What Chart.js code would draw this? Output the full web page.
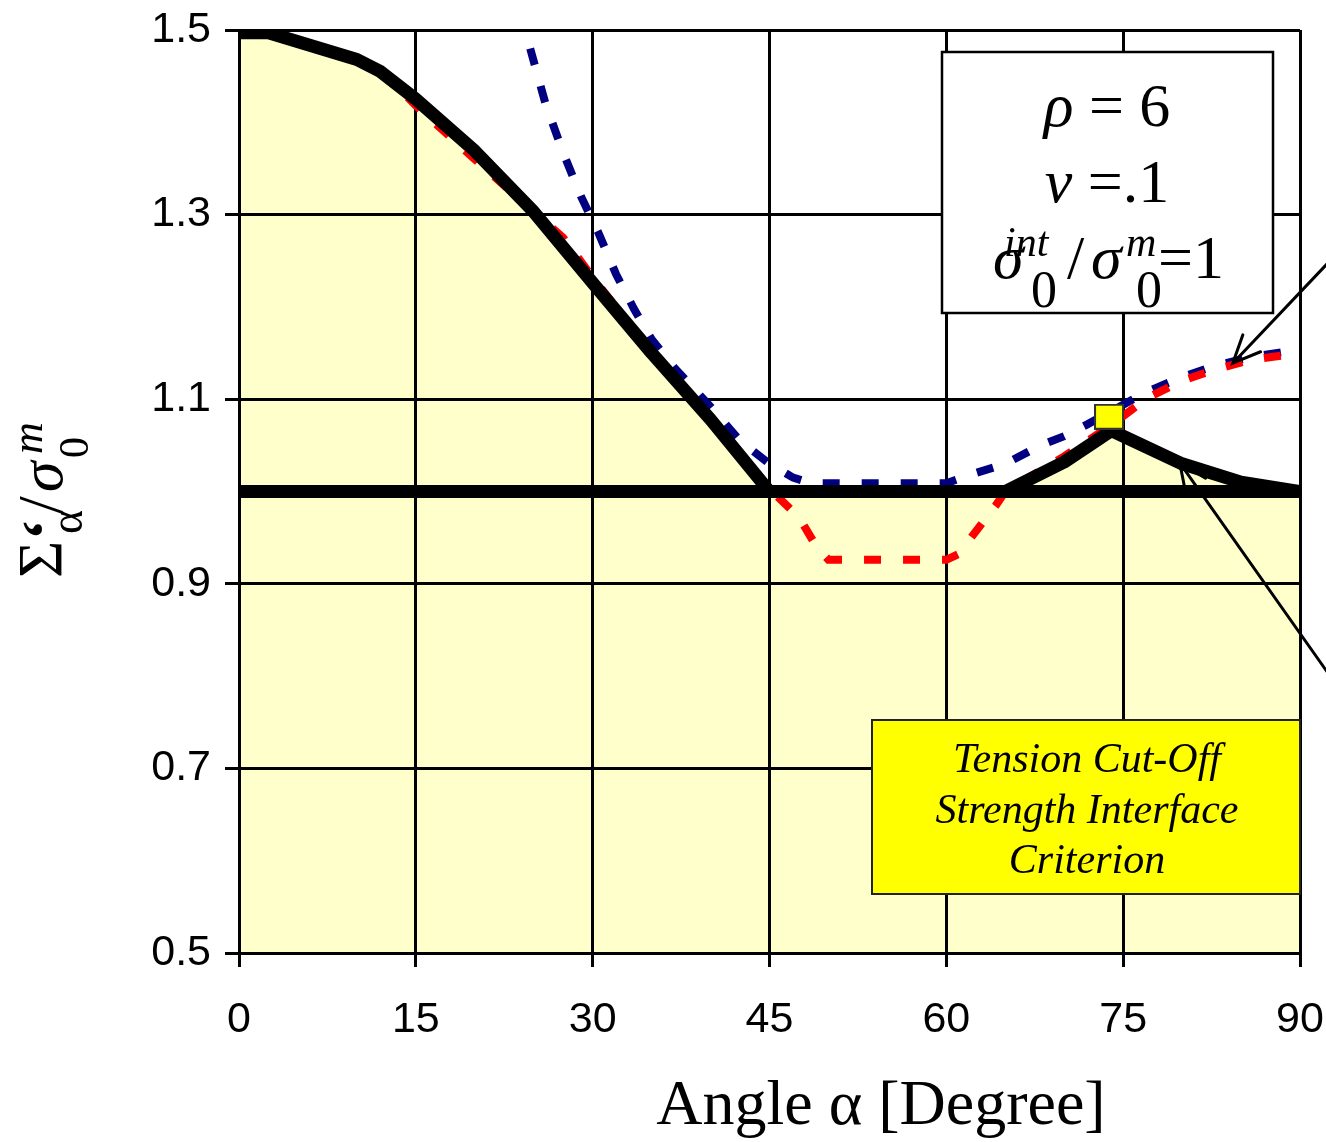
<!DOCTYPE html>
<html>
<head>
<meta charset="utf-8">
<script src="https://cdn.jsdelivr.net/npm/chart.js@4"></script>
<style>
  html, body { margin: 0; padding: 0; background: #fff; }
  #chart { display: block; }
</style>
</head>
<body>
<canvas id="chart" width="1326" height="1142"></canvas>
<script>
"use strict";

// tick labels
const xTicks = [0, 15, 30, 45, 60, 75, 90];
const yTicks = [0.5, 0.7, 0.9, 1.1, 1.3, 1.5];

// solid black envelope (filled below)
const blackX = [0, 2.5, 10, 12, 15, 20, 25, 30, 35, 40, 45, 65, 70, 74, 80, 85, 90];
const blackY = [1.497, 1.497, 1.468, 1.455, 1.425, 1.369, 1.303, 1.226, 1.15, 1.078, 1.0, 1.0, 1.032, 1.066, 1.03, 1.01, 1.0];

// tension cut-off level
const cutX = [0, 90];
const cutY = [1.0, 1.0];

// red dashed curve
const redX = [12, 15, 20, 25, 27.5, 30, 35, 40, 45, 47.5, 49, 50, 55, 60, 61, 62.7, 64.2, 65, 70, 74, 77, 80, 83, 86, 89.5];
const redY = [1.457, 1.418, 1.36, 1.303, 1.275, 1.232, 1.15, 1.075, 1.003, 0.972, 0.94, 0.926, 0.926, 0.926, 0.932, 0.96, 0.985, 1.0, 1.038, 1.072, 1.101, 1.12, 1.133, 1.143, 1.149];

// blue dashed curve
const blueX = [24.7, 26, 27.5, 29, 30.5, 32, 33.5, 35, 37, 40, 42.5, 45, 47, 48.5, 55, 60, 62.5, 65, 68, 70, 72, 74, 77, 80, 83, 86, 89.5];
const blueY = [1.48, 1.42, 1.367, 1.32, 1.28, 1.235, 1.198, 1.165, 1.133, 1.092, 1.055, 1.03, 1.015, 1.009, 1.009, 1.009, 1.02, 1.03, 1.05, 1.06, 1.073, 1.087, 1.108, 1.124, 1.137, 1.146, 1.153];

// yellow marker at the peak
const markX = [73.8];
const markY = [1.081];

// arrow tips (data space)
const arrowTipX = [84.3, 79.8];
const arrowTipY = [1.139, 1.031];

const SERIF = '"Liberation Serif", "Times New Roman", serif';
const SANS = '"Liberation Sans", Arial, sans-serif';

function pts(xs, ys) {
  return xs.map(function(x, i) { return { x: x, y: ys[i] }; });
}

// yellow square used as point style
let markCanvas = document.createElement('canvas');
markCanvas.width = 30;
markCanvas.height = 26;
(function() {
  let c = markCanvas.getContext('2d');
  c.fillStyle = '#FFFF00';
  c.fillRect(0, 0, 30, 26);
  c.strokeStyle = '#333';
  c.lineWidth = 2;
  c.strokeRect(1, 1, 28, 24);
})();

function drawArrow(ctx, tx, ty, angle) {
  // angle: direction from tip towards tail
  let far = 600;
  ctx.beginPath();
  ctx.moveTo(tx, ty);
  ctx.lineTo(tx + far * Math.cos(angle), ty + far * Math.sin(angle));
  let head = 30, spread = 0.42;
  ctx.moveTo(tx + head * Math.cos(angle - spread), ty + head * Math.sin(angle - spread));
  ctx.lineTo(tx, ty);
  ctx.lineTo(tx + head * Math.cos(angle + spread), ty + head * Math.sin(angle + spread));
  ctx.stroke();
}

// draw a run of text pieces; each piece: [text, font, dy]
function drawRun(ctx, x, y, pieces) {
  pieces.forEach(function(p) {
    ctx.font = p[1];
    ctx.fillText(p[0], x, y + p[2]);
    x += ctx.measureText(p[0]).width;
  });
}
function runWidth(ctx, pieces) {
  let w = 0;
  pieces.forEach(function(p) {
    ctx.font = p[1];
    w += ctx.measureText(p[0]).width;
  });
  return w;
}

const annotations = {
  id: 'annotations',
  afterDatasetsDraw: function(chart) {
    const ctx = chart.ctx;
    const xs = chart.scales.x, ys = chart.scales.y;
    ctx.save();

    // arrows
    ctx.strokeStyle = '#000';
    ctx.lineWidth = 3;
    ctx.lineCap = 'round';
    drawArrow(ctx, xs.getPixelForValue(arrowTipX[0]), ys.getPixelForValue(arrowTipY[0]), Math.atan2(-98, 93));
    drawArrow(ctx, xs.getPixelForValue(arrowTipX[1]), ys.getPixelForValue(arrowTipY[1]), Math.atan2(207, 146));

    // parameter box
    ctx.fillStyle = '#fff';
    ctx.fillRect(942, 52, 331, 261);
    ctx.strokeStyle = '#000';
    ctx.lineWidth = 2.5;
    ctx.strokeRect(942, 52, 331, 261);

    ctx.fillStyle = '#000';
    ctx.textBaseline = 'alphabetic';
    ctx.textAlign = 'left';
    const big = '62px ' + SERIF, bigI = 'italic 62px ' + SERIF;
    const cx = 1107;
    let l1 = [['ρ', bigI, 0], [' = 6', big, 0]];
    drawRun(ctx, cx - runWidth(ctx, l1) / 2, 126, l1);
    let l2 = [['ν', bigI, 0], [' =.1', big, 0]];
    drawRun(ctx, cx - runWidth(ctx, l2) / 2, 202, l2);
    let supF = 'italic 42px ' + SERIF, subF = '52px ' + SERIF;
    drawRun(ctx, 993, 278, [['σ', bigI, 0]]);
    drawRun(ctx, 1004, 278, [['int', supF, -22]]);
    drawRun(ctx, 1031, 278, [['0', subF, 29]]);
    drawRun(ctx, 1067, 278, [['/', big, 0]]);
    drawRun(ctx, 1091, 278, [['σ', bigI, 0]]);
    drawRun(ctx, 1126, 278, [['m', supF, -22]]);
    drawRun(ctx, 1136, 278, [['0', subF, 29]]);
    drawRun(ctx, 1158, 278, [['=1', big, 0]]);

    // tension cut-off box
    ctx.fillStyle = '#FFFF00';
    ctx.fillRect(872, 720, 428, 174);
    ctx.strokeStyle = '#222';
    ctx.lineWidth = 2;
    ctx.strokeRect(872, 720, 428, 174);
    ctx.fillStyle = '#000';
    ctx.textAlign = 'center';
    ctx.font = 'italic 42px ' + SERIF;
    ctx.fillText('Tension Cut-Off', 1087, 772);
    ctx.fillText('Strength Interface', 1087, 823);
    ctx.fillText('Criterion', 1087, 873);

    ctx.restore();
  },
  afterDraw: function(chart) {
    const ctx = chart.ctx;
    ctx.save();
    ctx.fillStyle = '#000';
    ctx.textBaseline = 'alphabetic';

    // x title
    ctx.textAlign = 'center';
    ctx.font = '64px ' + SERIF;
    ctx.fillText('Angle α [Degree]', 881, 1124);

    // y title, rotated
    ctx.textAlign = 'left';
    ctx.translate(62, 578);
    ctx.rotate(-Math.PI / 2);
    const f = '64px ' + SERIF, fi = 'italic 62px ' + SERIF;
    drawRun(ctx, 0, 0, [['Σ', f, 0]]);
    drawRun(ctx, 38, 0, [['‘', 'bold 62px ' + SERIF, 2]]);
    drawRun(ctx, 44, 0, [['α', '46px ' + SERIF, 20]]);
    drawRun(ctx, 64, 0, [['/', f, 0]]);
    drawRun(ctx, 86, 0, [['σ', fi, 0]]);
    drawRun(ctx, 124, 0, [['m', 'italic 44px ' + SERIF, -20]]);
    drawRun(ctx, 120, 0, [['0', '42px ' + SERIF, 26]]);
    ctx.restore();
  }
};

const gridStyle = {
  color: '#000',
  lineWidth: 3,
  drawTicks: true,
  tickLength: 14,
  tickColor: '#000',
  tickWidth: 3
};

new Chart(document.getElementById('chart'), {
  type: 'line',
  data: {
    datasets: [
      {
        data: pts(markX, markY),
        showLine: false,
        pointStyle: markCanvas,
        pointRadius: 15,
        pointHoverRadius: 15
      },
      {
        data: pts(blackX, blackY),
        borderColor: '#000',
        borderWidth: 13,
        borderJoinStyle: 'round',
        backgroundColor: '#FFFFCC',
        fill: 'start',
        pointRadius: 0
      },
      {
        data: pts(cutX, cutY),
        borderColor: '#000',
        borderWidth: 13,
        pointRadius: 0
      },
      {
        data: pts(redX, redY),
        borderColor: '#FF0000',
        borderWidth: 8,
        borderDash: [17, 22],
        borderCapStyle: 'butt',
        pointRadius: 0
      },
      {
        data: pts(blueX, blueY),
        borderColor: '#000080',
        borderWidth: 8,
        borderDash: [17, 22],
        borderCapStyle: 'butt',
        pointRadius: 0
      }
    ]
  },
  options: {
    responsive: false,
    animation: false,
    devicePixelRatio: 1,
    layout: { padding: { top: 30, right: 26, left: 0, bottom: 0 } },
    elements: { line: { tension: 0 } },
    plugins: {
      legend: { display: false },
      tooltip: { enabled: false },
      filler: { drawTime: 'beforeDraw' }
    },
    scales: {
      x: {
        type: 'linear',
        min: 0,
        max: 90,
        afterBuildTicks: function(scale) {
          scale.ticks = xTicks.map(function(v) { return { value: v }; });
        },
        afterFit: function(scale) {
          scale.height = 189;
          scale.paddingLeft = 0;
          scale.paddingRight = 0;
        },
        ticks: {
          color: '#000',
          font: { family: SANS, size: 43 },
          padding: 27,
          maxRotation: 0,
          autoSkip: false
        },
        grid: gridStyle,
        border: { color: '#000', width: 3 }
      },
      y: {
        type: 'linear',
        min: 0.5,
        max: 1.5,
        afterBuildTicks: function(scale) {
          scale.ticks = yTicks.map(function(v) { return { value: v }; });
        },
        afterFit: function(scale) {
          scale.width = 239;
          scale.paddingTop = 0;
          scale.paddingBottom = 0;
        },
        ticks: {
          color: '#000',
          font: { family: SANS, size: 43 },
          padding: 14,
          autoSkip: false,
          callback: function(v) { return Number(v).toFixed(1); }
        },
        grid: gridStyle,
        border: { color: '#000', width: 3 }
      }
    }
  },
  plugins: [annotations]
});
</script>
</body>
</html>
